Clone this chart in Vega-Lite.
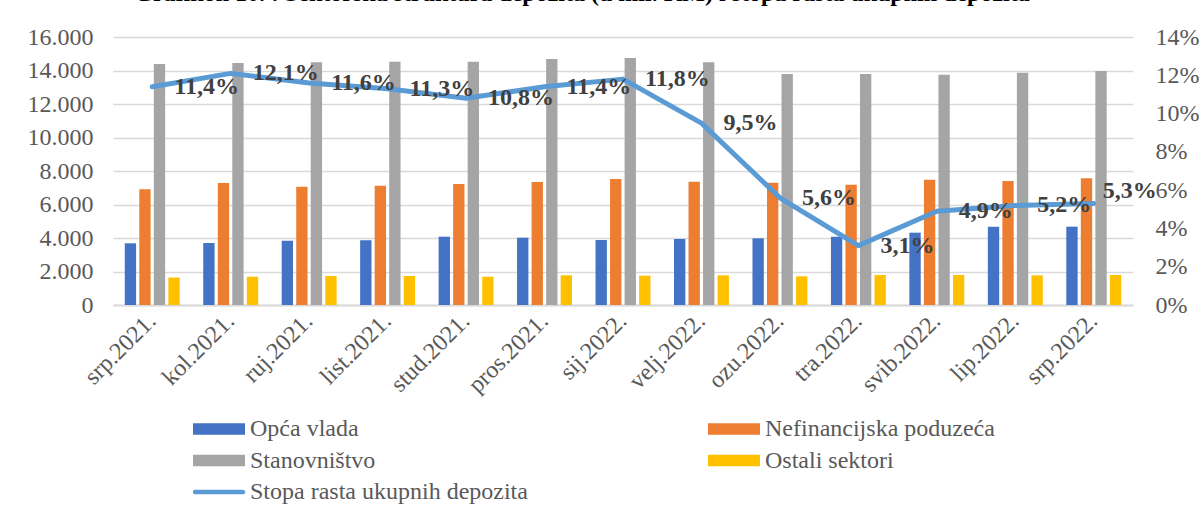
{
  "$schema": "https://vega.github.io/schema/vega-lite/v6.json",
  "autosize": {"type": "none"},
  "width": 1020,
  "height": 268,
  "padding": {"left": 113, "top": 37, "right": 69, "bottom": 212},
  "background": "white",
  "title": {
    "text": "Grafikon 10. : Sektorska struktura depozita (u mil. KM) i stopa rasta ukupnih depozita",
    "font": "Liberation Serif",
    "fontSize": 24,
    "fontWeight": "bold",
    "color": "#000000",
    "anchor": "middle",
    "baseline": "alphabetic",
    "offset": 22,
    "dx": -41,
    "dy": 22
  },
  "datasets": {
    "bars": [
      {"month": "srp.2021.", "series": "Opća vlada", "value": 3683},
      {"month": "srp.2021.", "series": "Nefinancijska poduzeća", "value": 6906},
      {"month": "srp.2021.", "series": "Stanovništvo", "value": 14388},
      {"month": "srp.2021.", "series": "Ostali sektori", "value": 1640},
      {"month": "kol.2021.", "series": "Opća vlada", "value": 3701},
      {"month": "kol.2021.", "series": "Nefinancijska poduzeća", "value": 7284},
      {"month": "kol.2021.", "series": "Stanovništvo", "value": 14448},
      {"month": "kol.2021.", "series": "Ostali sektori", "value": 1690},
      {"month": "ruj.2021.", "series": "Opća vlada", "value": 3840},
      {"month": "ruj.2021.", "series": "Nefinancijska poduzeća", "value": 7063},
      {"month": "ruj.2021.", "series": "Stanovništvo", "value": 14488},
      {"month": "ruj.2021.", "series": "Ostali sektori", "value": 1731},
      {"month": "list.2021.", "series": "Opća vlada", "value": 3860},
      {"month": "list.2021.", "series": "Nefinancijska poduzeća", "value": 7123},
      {"month": "list.2021.", "series": "Stanovništvo", "value": 14527},
      {"month": "list.2021.", "series": "Ostali sektori", "value": 1731},
      {"month": "stud.2021.", "series": "Opća vlada", "value": 4079},
      {"month": "stud.2021.", "series": "Nefinancijska poduzeća", "value": 7224},
      {"month": "stud.2021.", "series": "Stanovništvo", "value": 14527},
      {"month": "stud.2021.", "series": "Ostali sektori", "value": 1690},
      {"month": "pros.2021.", "series": "Opća vlada", "value": 4020},
      {"month": "pros.2021.", "series": "Nefinancijska poduzeća", "value": 7343},
      {"month": "pros.2021.", "series": "Stanovništvo", "value": 14687},
      {"month": "pros.2021.", "series": "Ostali sektori", "value": 1771},
      {"month": "sij.2022.", "series": "Opća vlada", "value": 3881},
      {"month": "sij.2022.", "series": "Nefinancijska poduzeća", "value": 7522},
      {"month": "sij.2022.", "series": "Stanovništvo", "value": 14746},
      {"month": "sij.2022.", "series": "Ostali sektori", "value": 1750},
      {"month": "velj.2022.", "series": "Opća vlada", "value": 3940},
      {"month": "velj.2022.", "series": "Nefinancijska poduzeća", "value": 7363},
      {"month": "velj.2022.", "series": "Stanovništvo", "value": 14488},
      {"month": "velj.2022.", "series": "Ostali sektori", "value": 1771},
      {"month": "ozu.2022.", "series": "Opća vlada", "value": 3980},
      {"month": "ozu.2022.", "series": "Nefinancijska poduzeća", "value": 7303},
      {"month": "ozu.2022.", "series": "Stanovništvo", "value": 13791},
      {"month": "ozu.2022.", "series": "Ostali sektori", "value": 1711},
      {"month": "tra.2022.", "series": "Opća vlada", "value": 4079},
      {"month": "tra.2022.", "series": "Nefinancijska poduzeća", "value": 7184},
      {"month": "tra.2022.", "series": "Stanovništvo", "value": 13791},
      {"month": "tra.2022.", "series": "Ostali sektori", "value": 1791},
      {"month": "svib.2022.", "series": "Opća vlada", "value": 4318},
      {"month": "svib.2022.", "series": "Nefinancijska poduzeća", "value": 7482},
      {"month": "svib.2022.", "series": "Stanovništvo", "value": 13751},
      {"month": "svib.2022.", "series": "Ostali sektori", "value": 1791},
      {"month": "lip.2022.", "series": "Opća vlada", "value": 4676},
      {"month": "lip.2022.", "series": "Nefinancijska poduzeća", "value": 7403},
      {"month": "lip.2022.", "series": "Stanovništvo", "value": 13871},
      {"month": "lip.2022.", "series": "Ostali sektori", "value": 1771},
      {"month": "srp.2022.", "series": "Opća vlada", "value": 4676},
      {"month": "srp.2022.", "series": "Nefinancijska poduzeća", "value": 7562},
      {"month": "srp.2022.", "series": "Stanovništvo", "value": 13970},
      {"month": "srp.2022.", "series": "Ostali sektori", "value": 1791}
    ],
    "rate": [
      {"month": "srp.2021.", "series": "Stopa rasta ukupnih depozita", "rate": 0.114},
      {"month": "kol.2021.", "series": "Stopa rasta ukupnih depozita", "rate": 0.121},
      {"month": "ruj.2021.", "series": "Stopa rasta ukupnih depozita", "rate": 0.116},
      {"month": "list.2021.", "series": "Stopa rasta ukupnih depozita", "rate": 0.113},
      {"month": "stud.2021.", "series": "Stopa rasta ukupnih depozita", "rate": 0.108},
      {"month": "pros.2021.", "series": "Stopa rasta ukupnih depozita", "rate": 0.114},
      {"month": "sij.2022.", "series": "Stopa rasta ukupnih depozita", "rate": 0.118},
      {"month": "velj.2022.", "series": "Stopa rasta ukupnih depozita", "rate": 0.095},
      {"month": "ozu.2022.", "series": "Stopa rasta ukupnih depozita", "rate": 0.056},
      {"month": "tra.2022.", "series": "Stopa rasta ukupnih depozita", "rate": 0.031},
      {"month": "svib.2022.", "series": "Stopa rasta ukupnih depozita", "rate": 0.049},
      {"month": "lip.2022.", "series": "Stopa rasta ukupnih depozita", "rate": 0.052},
      {"month": "srp.2022.", "series": "Stopa rasta ukupnih depozita", "rate": 0.053}
    ]
  },
  "encoding": {
    "x": {
      "field": "month",
      "type": "nominal",
      "sort": null,
      "scale": {
        "domain": ["srp.2021.", "kol.2021.", "ruj.2021.", "list.2021.", "stud.2021.", "pros.2021.", "sij.2022.", "velj.2022.", "ozu.2022.", "tra.2022.", "svib.2022.", "lip.2022.", "srp.2022."],
        "paddingInner": 0.3,
        "paddingOuter": 0.15
      },
      "axis": {
        "title": null,
        "labelAngle": -45,
        "labelAlign": "right",
        "labelBaseline": "middle",
        "labelPadding": 12,
        "ticks": false,
        "domain": true,
        "domainColor": "#d9d9d9",
        "domainWidth": 2,
        "grid": false
      }
    }
  },
  "layer": [
    {
      "data": {"name": "bars"},
      "mark": {"type": "bar"},
      "encoding": {
        "xOffset": {
          "field": "series",
          "type": "nominal",
          "sort": null,
          "scale": {"domain": ["Opća vlada", "Nefinancijska poduzeća", "Stanovništvo", "Ostali sektori"], "paddingInner": 0.22, "paddingOuter": 0}
        },
        "y": {
          "field": "value",
          "type": "quantitative",
          "scale": {"domain": [0, 16000], "nice": false},
          "axis": {
            "title": null,
            "orient": "left",
            "values": [0, 2000, 4000, 6000, 8000, 10000, 12000, 14000, 16000],
            "format": ",.0f",
            "grid": true,
            "gridColor": "#d9d9d9",
            "gridWidth": 1.5,
            "domain": false,
            "ticks": false,
            "labelPadding": 20
          }
        },
        "color": {
          "field": "series",
          "type": "nominal",
          "sort": null,
          "scale": {
            "domain": ["Opća vlada", "Nefinancijska poduzeća", "Stanovništvo", "Ostali sektori", "Stopa rasta ukupnih depozita"],
            "range": ["#4472c4", "#ed7d31", "#a5a5a5", "#ffc000", "#5b9bd5"]
          },
          "legend": {
            "title": null,
            "orient": "none",
            "legendX": 80,
            "legendY": 380,
            "direction": "horizontal",
            "columns": 2,
            "columnPadding": 180,
            "rowPadding": 7.5,
            "clipHeight": 24,
            "symbolType": "M-1,-0.22H1V0.22H-1Z",
            "symbolSize": 2704,
            "symbolStrokeWidth": 0,
            "labelOffset": 5,
            "labelFont": "Liberation Serif",
            "labelFontSize": 24,
            "labelColor": "#595959",
            "labelLimit": 400,
            "encode": {
              "symbols": {
                "update": {
                  "shape": {"signal": "datum.label === 'Stopa rasta ukupnih depozita' ? 'M-0.92,-0.09H0.92A0.09,0.09 0 0 1 0.92,0.09H-0.92A0.09,0.09 0 0 1 -0.92,-0.09Z' : 'M-1,-0.22H1V0.22H-1Z'"}
                }
              }
            }
          }
        }
      }
    },
    {
      "data": {"name": "rate"},
      "encoding": {
        "y": {
          "field": "rate",
          "type": "quantitative",
          "scale": {"domain": [0, 0.14], "nice": false},
          "axis": {
            "title": null,
            "orient": "right",
            "values": [0, 0.02, 0.04, 0.06, 0.08, 0.1, 0.12, 0.14],
            "format": ".0%",
            "grid": false,
            "domain": false,
            "ticks": false,
            "labelPadding": 22
          }
        }
      },
      "layer": [
        {
          "mark": {"type": "line", "strokeWidth": 5, "strokeCap": "round", "strokeJoin": "round"},
          "encoding": {
            "color": {"field": "series", "type": "nominal"}
          }
        },
        {
          "transform": [{"filter": "datum.month !== 'srp.2022.'"}],
          "mark": {"type": "text", "align": "left", "baseline": "middle", "dx": 22, "font": "Liberation Serif", "fontSize": 24, "fontWeight": "bold", "color": "#404040"},
          "encoding": {
            "text": {"field": "rate", "type": "quantitative", "format": ".1%"}
          }
        },
        {
          "transform": [{"filter": "datum.month === 'srp.2022.'"}],
          "mark": {"type": "text", "align": "left", "baseline": "middle", "dx": 9, "dy": -13, "font": "Liberation Serif", "fontSize": 24, "fontWeight": "bold", "color": "#404040"},
          "encoding": {
            "text": {"field": "rate", "type": "quantitative", "format": ".1%"}
          }
        }
      ]
    }
  ],
  "resolve": {"scale": {"y": "independent"}},
  "config": {
    "locale": {"number": {"decimal": ",", "thousands": ".", "grouping": [3], "currency": ["", ""]}},
    "view": {"stroke": null},
    "axis": {
      "labelFont": "Liberation Serif",
      "labelFontSize": 24,
      "labelColor": "#595959"
    }
  }
}
